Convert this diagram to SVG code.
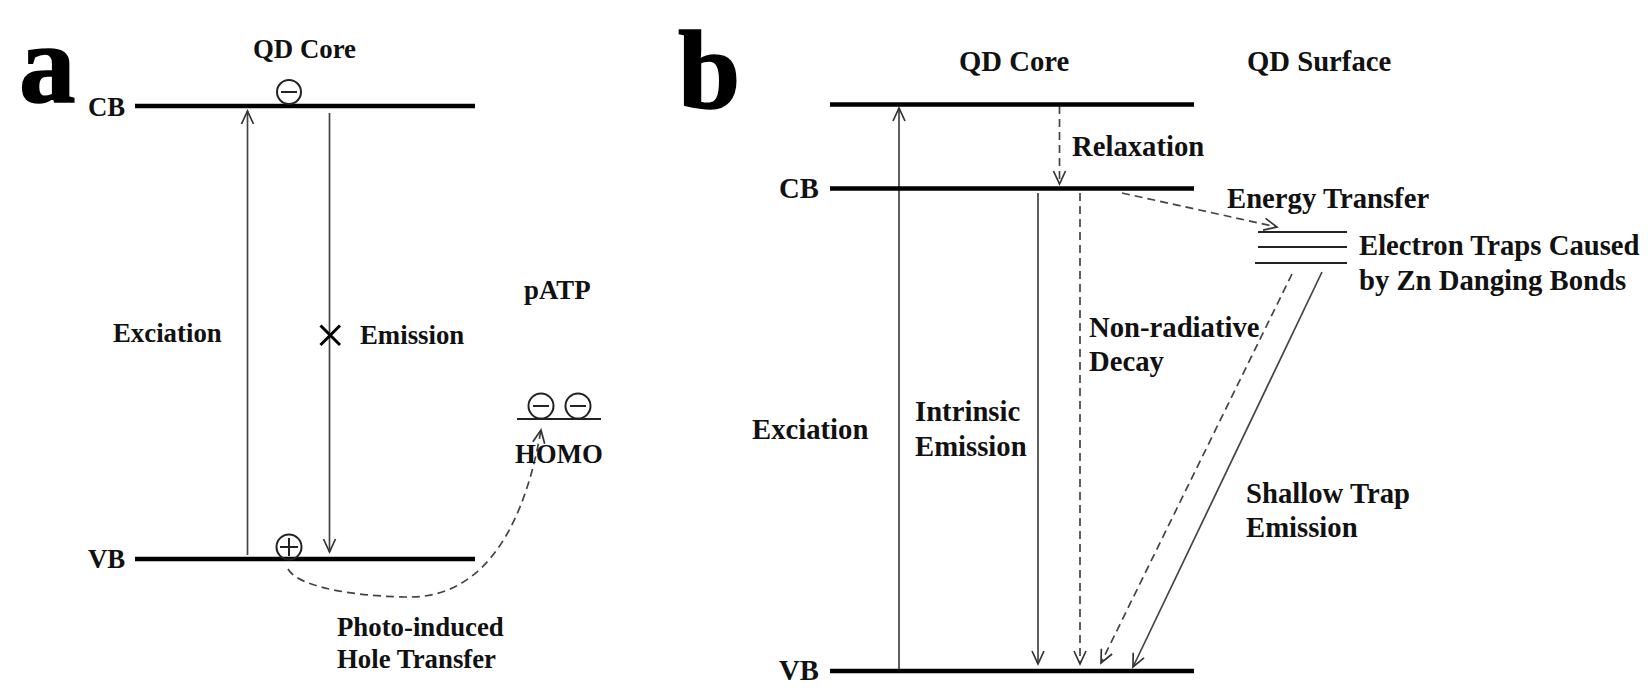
<svg xmlns="http://www.w3.org/2000/svg" width="1652" height="698" viewBox="0 0 1652 698">
<defs>
<marker id="arr" markerUnits="userSpaceOnUse" markerWidth="18" markerHeight="18" refX="14" refY="9" orient="auto" overflow="visible"><path d="M1 3L14 9L1 15" fill="none" stroke="#333" stroke-width="1.7"/></marker>
</defs>
<style>
text{font-family:"Liberation Serif","Times New Roman",serif;font-weight:bold;fill:#111}
.a{font-size:26.8px}
.b{font-size:28.7px}
.big{fill:#000;stroke:#000;stroke-width:1.5}
.lvl{stroke:#000;stroke-width:4.5;fill:none}
.thin{stroke:#222;stroke-width:2.2;fill:none}
.con{stroke:#444;stroke-width:1.7;fill:none}
.dash{stroke-dasharray:8 5}
.pt{fill:none;stroke:#222;stroke-width:2}
</style>
<g id="panel-labels">
<text class="big" x="19" y="102" font-size="113">a</text>
<text class="big" x="678" y="108" font-size="112">b</text>
</g>
<g id="connectors">
<line class="con" x1="247.500" y1="555" x2="247.500" y2="111" marker-end="url(#arr)"/>
<line class="con" x1="329.500" y1="113" x2="329.500" y2="552" marker-end="url(#arr)"/>
<path class="con dash" d="M288 569C300 590 370 597 410 597C470 597 520 550 541 430" marker-end="url(#arr)"/>
<line class="con" x1="899" y1="670" x2="899" y2="108" marker-end="url(#arr)"/>
<line class="con dash" x1="1059.500" y1="106" x2="1059.500" y2="184" marker-end="url(#arr)"/>
<line class="con" x1="1038" y1="193" x2="1038" y2="664" marker-end="url(#arr)"/>
<line class="con dash" x1="1080" y1="193" x2="1080" y2="664" marker-end="url(#arr)"/>
<line class="con dash" x1="1122" y1="193" x2="1277" y2="227" marker-end="url(#arr)"/>
<line class="con dash" x1="1292" y1="274" x2="1101" y2="663" marker-end="url(#arr)"/>
<line class="con" x1="1322" y1="272" x2="1133" y2="667" marker-end="url(#arr)"/>
</g>
<g id="a-cb"><line class="lvl" x1="135" y1="106" x2="475" y2="106"/><text class="a" x="88" y="116">CB</text></g>
<g id="a-vb"><line class="lvl" x1="135" y1="559" x2="475" y2="559"/><text class="a" x="88" y="568">VB</text></g>
<g id="a-qd"><text class="a" x="253" y="58">QD Core</text></g>
<g id="a-electron"><circle class="pt" cx="289" cy="92" r="12"/><line class="pt" x1="281" y1="92" x2="297" y2="92"/></g>
<g id="a-hole"><circle class="pt" cx="289" cy="547" r="12.500"/><line class="pt" x1="280" y1="547" x2="298" y2="547"/><line class="pt" x1="289" y1="538" x2="289" y2="556"/></g>
<g id="a-x"><path d="M320.500 325.500L340 345M340 325.500L320.500 345" stroke="#000" stroke-width="3" fill="none"/></g>
<g id="a-exciation"><text class="a" x="113" y="342">Exciation</text></g>
<g id="a-emission"><text class="a" x="360" y="344">Emission</text></g>
<g id="a-patp"><text class="a" x="524" y="299">pATP</text></g>
<g id="a-homo"><line class="thin" x1="517" y1="419" x2="601" y2="419"/><circle class="pt" cx="541" cy="406" r="12.500"/><line class="pt" x1="533" y1="406" x2="549" y2="406"/><circle class="pt" cx="578" cy="406" r="12.500"/><line class="pt" x1="570" y1="406" x2="586" y2="406"/><text class="a" x="515" y="463">HOMO</text></g>
<g id="a-pht"><text class="a" x="337" y="636">Photo-induced</text><text class="a" x="337" y="668">Hole Transfer</text></g>
<g id="b-top"><line class="lvl" x1="830" y1="104.500" x2="1194" y2="104.500"/></g>
<g id="b-cb"><line class="lvl" x1="830" y1="188.500" x2="1194" y2="188.500"/><text class="b" x="779" y="198">CB</text></g>
<g id="b-vb"><line class="lvl" x1="830" y1="671" x2="1194" y2="671"/><text class="b" x="779" y="680">VB</text></g>
<g id="b-traps"><line class="thin" x1="1258" y1="232" x2="1347" y2="232"/><line class="thin" x1="1258" y1="247" x2="1347" y2="247"/><line class="thin" x1="1255" y1="263" x2="1347" y2="263"/><text class="b" x="1359" y="255">Electron Traps Caused</text><text class="b" x="1359" y="290">by Zn Danging Bonds</text></g>
<g id="b-qd"><text class="b" x="959" y="71">QD Core</text></g>
<g id="b-surface"><text class="b" x="1247" y="71">QD Surface</text></g>
<g id="b-relax"><text class="b" x="1072" y="156">Relaxation</text></g>
<g id="b-energy"><text class="b" x="1227" y="208">Energy Transfer</text></g>
<g id="b-nonrad"><text class="b" x="1089" y="337">Non-radiative</text><text class="b" x="1089" y="371">Decay</text></g>
<g id="b-exciation"><text class="b" x="752" y="439">Exciation</text></g>
<g id="b-intrinsic"><text class="b" x="915" y="421">Intrinsic</text><text class="b" x="915" y="456">Emission</text></g>
<g id="b-shallow"><text class="b" x="1246" y="503">Shallow Trap</text><text class="b" x="1246" y="537">Emission</text></g>
</svg>
